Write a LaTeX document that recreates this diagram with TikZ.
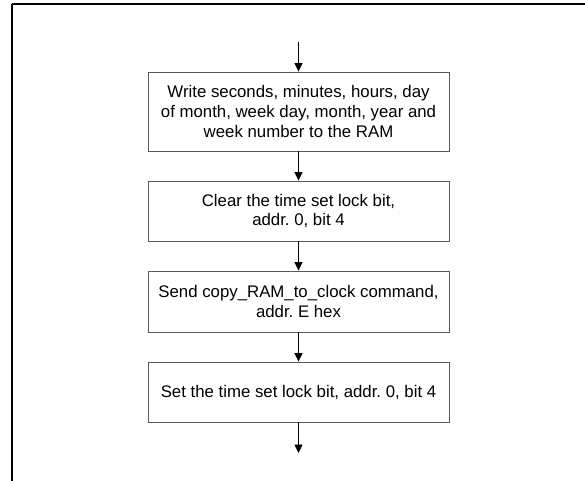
\documentclass[tikz,border=0pt]{standalone}
\usepackage{fontspec}
\setmainfont{Liberation Sans}
\usepackage{tikz}
\usetikzlibrary{arrows.meta}
\frenchspacing

\tikzset{
  stepbox/.style={draw={rgb,255:red,90;green,90;blue,90}, line width=0.9, rectangle, minimum width=301, inner sep=0.75pt, align=center, font=\fontsize{16.8}{19.8}\selectfont},
  flowarrow/.style={draw=black, line width=0.75, -{Triangle[length=8.5, width=8]}}
}

\begin{document}
\begin{tikzpicture}[x=1pt,y=1pt,yscale=-1]
\useasboundingbox (0,0) rectangle (585,480);
\clip (0,0) rectangle (585,480);

%Shape: Frame
\draw [line width=1.6] (12,4) -- (595,4) (12,4) -- (12,490) ;

% Text Node
\node [stepbox, minimum height=79] (write) at (298.5,111.5) {Write seconds, minutes, hours, day\\of month, week day, month, year and\\week number to the RAM};
% Text Node
\node [stepbox, minimum height=60] (clear) at (298.5,211) {Clear the time set lock bit,\\addr. 0, bit 4};
% Text Node
\node [stepbox, minimum height=61] (send) at (298.5,301.5) {Send copy\_RAM\_to\_clock command,\\addr. E hex};
% Text Node
\node [stepbox, minimum height=60] (set) at (298.5,392) {Set the time set lock bit, addr. 0, bit 4};

\coordinate (entry) at (298.5,42);
\coordinate (exit) at (298.5,453);

%Straight Lines
\draw [flowarrow] (entry) -- (write.north) ;
\draw [flowarrow] (write.south) -- (clear.north) ;
\draw [flowarrow] (clear.south) -- (send.north) ;
\draw [flowarrow] (send.south) -- (set.north) ;
\draw [flowarrow] (set.south) -- (exit) ;

\end{tikzpicture}
\end{document}
